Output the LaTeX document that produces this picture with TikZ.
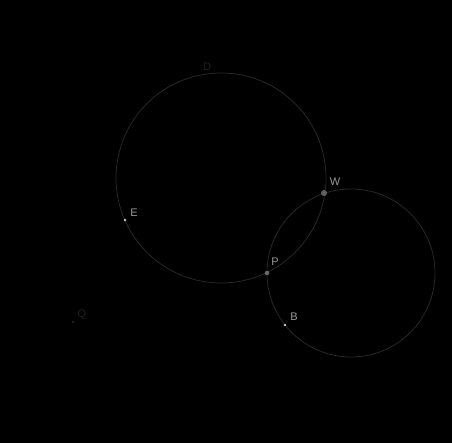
\documentclass[tikz,border=0pt]{standalone}
\usepackage{fontspec}
\setmainfont{Liberation Sans}
\begin{document}
\begin{tikzpicture}[x=1pt,y=-1pt,
  circ/.style={draw=black!84, line width=0.75pt},
  lab/.style={text=black!40, font=\fontsize{11}{13}\selectfont, inner sep=0pt},
  dimlab/.style={text=black!88, font=\fontsize{11}{13}\selectfont, inner sep=0pt},
  bigdot/.style={circle, fill=black!62, inner sep=0pt, minimum size=6pt},
  middot/.style={circle, fill=black!58, inner sep=0pt, minimum size=4.5pt},
  smalldot/.style={circle, fill=black!20, inner sep=0pt, minimum size=2.8pt},
  tinydot/.style={circle, fill=black!85, inner sep=0pt, minimum size=2.5pt}]
\fill[black] (0,0) rectangle (452,443);
\useasboundingbox (0,0) rectangle (452,443);
\coordinate (c1) at (221,178);
\coordinate (c2) at (351,273);
\draw[circ] (c1) circle (105);
\draw[circ] (c2) circle (84);
\node[bigdot] (W) at (324,193) {};
\node[middot] (P) at (267,273) {};
\node[smalldot] (E) at (125,220) {};
\node[smalldot] (B) at (285,325) {};
\node[tinydot] (Q) at (73,322) {};
\node[lab] (Wl) at (335,182) {W};
\node[lab] (Pl) at (275,262) {P};
\node[lab] (El) at (134,213) {E};
\node[lab] (Bl) at (294,317) {B};
\node[dimlab] (Dl) at (207,67) {D};
\node[dimlab] (Ql) at (82,315) {Q};
\end{tikzpicture}
\end{document}
